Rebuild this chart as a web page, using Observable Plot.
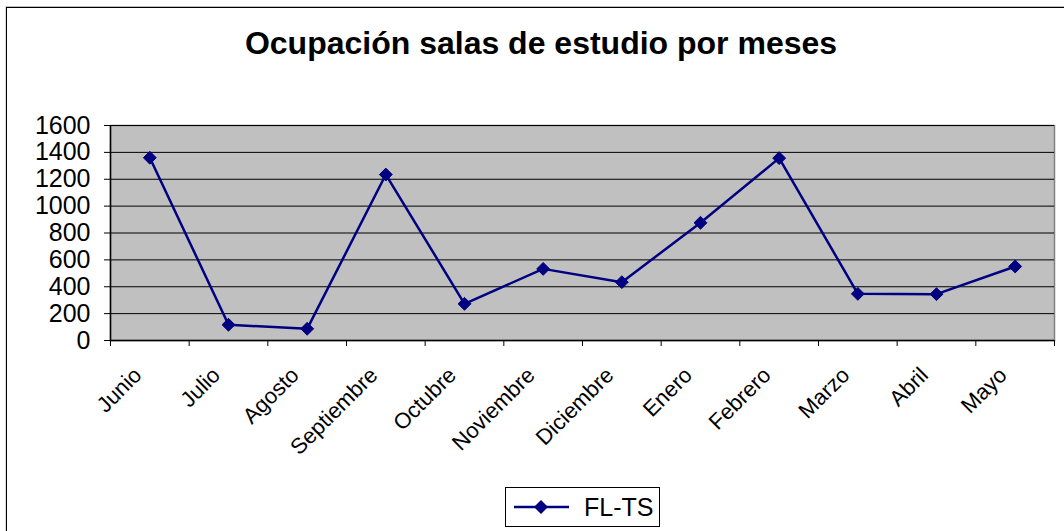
<!DOCTYPE html>
<html>
<head>
<meta charset="utf-8">
<script src="https://cdn.jsdelivr.net/npm/d3@7"></script>
<script src="https://cdn.jsdelivr.net/npm/@observablehq/plot@0.6"></script>
<style>
  html, body { margin: 0; padding: 0; background: #fff; }
  #wrap { position: relative; width: 1064px; height: 531px; overflow: hidden; font-family: "Liberation Sans", Arial, sans-serif; }
  #border { position: absolute; left: 6px; top: 7px; width: 1100px; height: 600px; border-left: 1.5px solid #000; border-top: 1.5px solid #000; box-shadow: -0.5px -1px 0 #bbb; }
  #title { position: absolute; left: 0; width: 1082px; top: 25px; text-align: center; font-weight: bold; font-size: 32px; color: #000; }
  #chart { position: absolute; left: 0; top: 0; }
  #legend { position: absolute; left: 505px; top: 487px; width: 153px; height: 38px; border: 1px solid #000; background: #fff; display: flex; align-items: center; }
  #legend span { font-size: 25px; margin-left: 7px; }
</style>
</head>
<body>
<div id="wrap">
  <div id="border"></div>
  <div id="chart"></div>
  <div id="title">Ocupación salas de estudio por meses</div>
  <div id="legend">
    <svg width="64" height="20" style="margin-left:7px">
      <line x1="1" y1="10" x2="56" y2="10" stroke="#000080" stroke-width="2.5"></line>
      <path d="M28,3 L35,10 L28,17 L21,10 Z" fill="#000080"></path>
    </svg>
    <span>FL-TS</span>
  </div>
</div>
<script>
const months = ["Junio", "Julio", "Agosto", "Septiembre", "Octubre", "Noviembre", "Diciembre", "Enero", "Febrero", "Marzo", "Abril", "Mayo"];
const values = [1360, 117, 87, 1235, 273, 533, 434, 876, 1357, 347, 345, 551];
const yTicks = [0, 200, 400, 600, 800, 1000, 1200, 1400, 1600];
const seriesName = "FL-TS";

const data = months.map((m, i) => ({month: m, pos: i + 0.5, value: values[i]}));
const centers = months.map((m, i) => i + 0.5);
const boundaries = d3.range(0, months.length + 1);

const plot = Plot.plot({
  width: 1064,
  height: 531,
  marginLeft: 110,
  marginRight: 10,
  marginTop: 125,
  marginBottom: 191,
  style: {fontFamily: "'Liberation Sans', Arial, sans-serif", fontSize: "22px", color: "#000", background: "transparent", overflow: "visible"},
  x: {domain: [0, months.length]},
  y: {domain: [0, 1600]},
  marks: [
    Plot.frame({fill: "#c0c0c0", stroke: "#808080", strokeWidth: 1.5}),
    Plot.gridY(yTicks, {stroke: "#000", strokeOpacity: 1, strokeWidth: 1}),
    Plot.ruleX([0], {stroke: "#000", strokeWidth: 1.5}),
    Plot.ruleY([0], {stroke: "#000", strokeWidth: 1.5}),
    Plot.axisY({ticks: yTicks, tickSize: 6, tickPadding: 14, tickFormat: d => String(d), fontSize: 25, stroke: "#000", label: null}),
    Plot.axisX({ticks: boundaries, tickSize: 6, tickFormat: () => "", stroke: "#000", label: null}),
    Plot.axisX({ticks: centers, tickSize: 0, tickFormat: d => months[Math.floor(d)], tickRotate: -45, tickPadding: 31, dx: -12, fontSize: 22, label: null}),
    Plot.line(data, {x: "pos", y: "value", stroke: "#000080", strokeWidth: 2.5}),
    Plot.dot(data, {x: "pos", y: "value", symbol: "diamond2", r: 5.8, fill: "#000080", stroke: "#000080", strokeWidth: 1})
  ]
});
document.getElementById("chart").appendChild(plot);
</script>
</body>
</html>
